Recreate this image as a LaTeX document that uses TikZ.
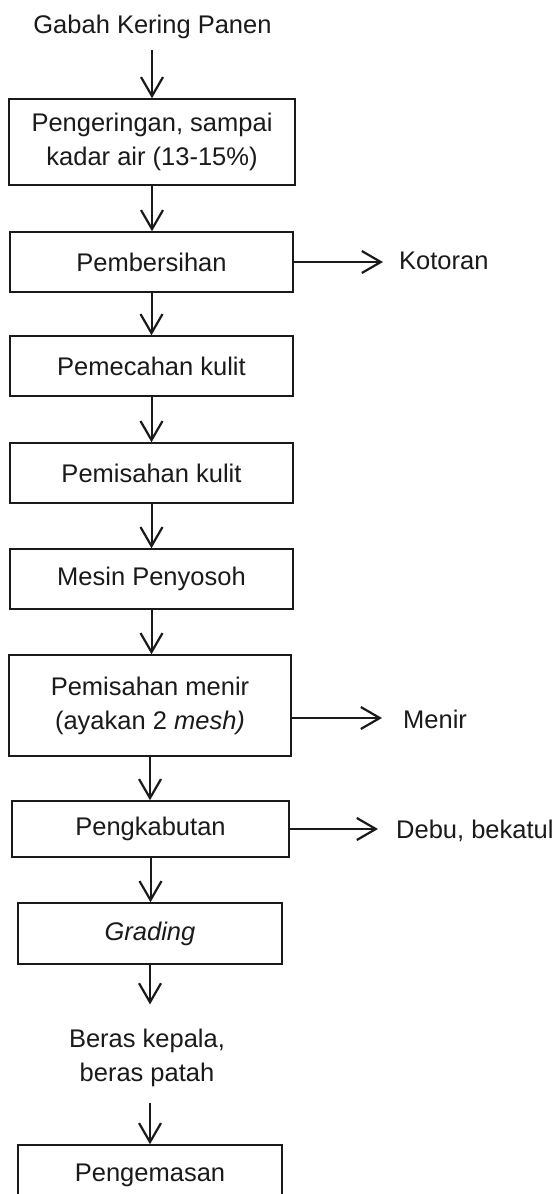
\documentclass[tikz,border=0pt]{standalone}
\usepackage{fontspec}
\newfontfamily\lsans{Liberation Sans}
\usetikzlibrary{arrows.meta}
\definecolor{ink}{HTML}{1A1A1A}
\begin{document}
\begin{tikzpicture}[x=1pt,y=-1pt,
  txt/.style={font=\lsans\fontsize{25.5}{34}\selectfont, text=ink, align=center},
  box/.style={txt, draw=ink, line width=1.5pt, inner sep=2pt},
  lbl/.style={txt, inner sep=0pt, anchor=base west},
  arr/.style={draw=ink, line width=2pt, -{Straight Barb[length=19pt,width=22pt,line width=2.2pt]}}]
\useasboundingbox (0,0) rectangle (554,1194);
\clip (0,0) rectangle (554,1194);
\fill[white] (0,0) rectangle (554,1194);

\node[txt, inner sep=0pt, anchor=base] (t0) at (152.5,33) {Gabah Kering Panen};
\node[box, minimum width=286pt, minimum height=86pt] (b1) at (152,142) {Pengeringan, sampai\\kadar air (13-15\%)};
\node[box, minimum width=283pt, minimum height=60pt] (b2) at (151.5,262) {Pembersihan};
\node[box, minimum width=283pt, minimum height=60pt] (b3) at (151.5,366) {Pemecahan kulit};
\node[box, minimum width=283pt, minimum height=60pt] (b4) at (151.5,473) {Pemisahan kulit};
\node[box, minimum width=283pt, minimum height=60pt] (b5) at (151.5,579) {Mesin Penyosoh};
\node[box, minimum width=282pt, minimum height=101pt] (b6) at (150,705.5) {Pemisahan menir\\(ayakan 2 \textit{mesh)}};
\node[box, minimum width=277pt, minimum height=56pt] (b7) at (150.5,829) {Pengkabutan};
\node[box, minimum width=264pt, minimum height=61pt] (b8) at (150,933.5) {\textit{Grading}};
\node[txt, inner sep=0pt] (br) at (147,1057.5) {Beras kepala,\\beras patah};
\node[box, minimum width=264pt, minimum height=60pt] (b9) at (150,1175) {Pengemasan};

\node[lbl] (kot) at (399,269.5) {Kotoran};
\node[lbl] (men) at (403,728) {Menir};
\node[lbl] (deb) at (396,838) {Debu, bekatul};

\draw[arr, shorten <=12pt] (t0.south -| b1.north) -- (b1.north);
\draw[arr] (b1.south) -- (b1.south |- b2.north);
\draw[arr] (b2.south) -- (b2.south |- b3.north);
\draw[arr] (b3.south) -- (b3.south |- b4.north);
\draw[arr] (b4.south) -- (b4.south |- b5.north);
\draw[arr] (b5.south) -- (b5.south |- b6.north);
\draw[arr] (b6.south) -- (b6.south |- b7.north);
\draw[arr] (b7.south) -- (b7.south |- b8.north);
\draw[arr, shorten >=24pt] (b8.south) -- (b8.south |- br.north);
\draw[arr, shorten <=16pt] (br.south -| b9.north) -- (b9.north);

\draw[arr, shorten >=16pt] (b2.east) -- (b2.east -| kot.west);
\draw[arr, shorten >=21pt] ([yshift=-12.5pt]b6.east) -- ([yshift=-12.5pt]b6.east -| men.west);
\draw[arr, shorten >=18pt] (b7.east) -- (b7.east -| deb.west);
\end{tikzpicture}
\end{document}
